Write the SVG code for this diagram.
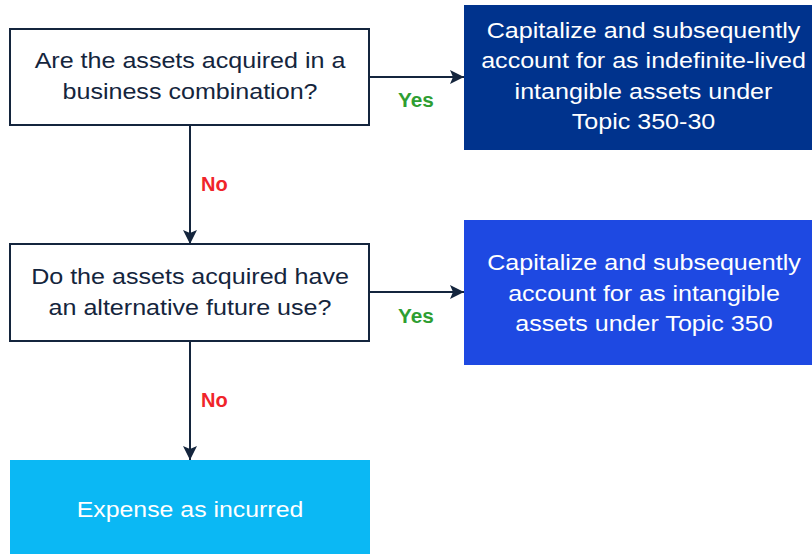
<svg xmlns="http://www.w3.org/2000/svg" width="812" height="554" viewBox="0 0 812 554">
<style>
.q{fill:#fff;stroke:#14253d;stroke-width:2}
.t{font-family:"Liberation Sans",Arial,sans-serif;font-size:22px;text-anchor:middle}
.dk{fill:#14253d}
.w{fill:#fff}
.c{stroke:#14253d;stroke-width:2;fill:none}
.yes{font-family:"Liberation Sans",Arial,sans-serif;font-size:20px;font-weight:bold;fill:#2e9e32}
.no{font-family:"Liberation Sans",Arial,sans-serif;font-size:20px;font-weight:bold;fill:#f0242a}
</style>
<defs>
<marker id="a" viewBox="0 0 14 14" refX="14" refY="7" markerWidth="14" markerHeight="14" markerUnits="userSpaceOnUse" orient="auto">
<path d="M0,0 L14,7 L0,14 L3,7 z" fill="#14253d"/>
</marker>
</defs>
<rect width="812" height="554" fill="#fff"/>
<g id="connectors">
<line class="c" x1="369" y1="77" x2="464" y2="77" marker-end="url(#a)"/>
<line class="c" x1="190" y1="125" x2="190" y2="244" marker-end="url(#a)"/>
<line class="c" x1="369" y1="292" x2="464" y2="292" marker-end="url(#a)"/>
<line class="c" x1="190" y1="341" x2="190" y2="460" marker-end="url(#a)"/>
<text class="yes" x="398" y="107" transform="matrix(1.04 0 0 1 -16 0)">Yes</text>
<text class="no" x="201" y="191">No</text>
<text class="yes" x="398" y="323" transform="matrix(1.04 0 0 1 -16 0)">Yes</text>
<text class="no" x="201" y="407">No</text>
</g>
<g id="q1">
<rect class="q" x="10" y="29" width="359" height="96"/>
<g transform="matrix(1.14 0 0 1 190 0)">
<text class="t dk" x="0" y="68">Are the assets acquired in a</text>
<text class="t dk" x="0" y="99">business combination?</text>
</g>
</g>
<g id="r1">
<rect x="464" y="5" width="358" height="145" fill="#00338d"/>
<g transform="matrix(1.14 0 0 1 643.5 0)">
<text class="t w" x="0" y="38">Capitalize and subsequently</text>
<text class="t w" x="0" y="68">account for as indefinite-lived</text>
<text class="t w" x="0" y="99">intangible assets under</text>
<text class="t w" x="0" y="129">Topic 350-30</text>
</g>
</g>
<g id="q2">
<rect class="q" x="10" y="244" width="359" height="97"/>
<g transform="matrix(1.14 0 0 1 190 0)">
<text class="t dk" x="0" y="284">Do the assets acquired have</text>
<text class="t dk" x="0" y="315">an alternative future use?</text>
</g>
</g>
<g id="r2">
<rect x="464" y="220" width="358" height="145" fill="#1e49e2"/>
<g transform="matrix(1.14 0 0 1 644 0)">
<text class="t w" x="0" y="270">Capitalize and subsequently</text>
<text class="t w" x="0" y="301">account for as intangible</text>
<text class="t w" x="0" y="331">assets under Topic 350</text>
</g>
</g>
<g id="r3">
<rect x="10" y="460" width="360" height="94" fill="#0bb8f4"/>
<g transform="matrix(1.13 0 0 1 190 0)">
<text class="t w" x="0" y="517">Expense as incurred</text>
</g>
</g>
</svg>
